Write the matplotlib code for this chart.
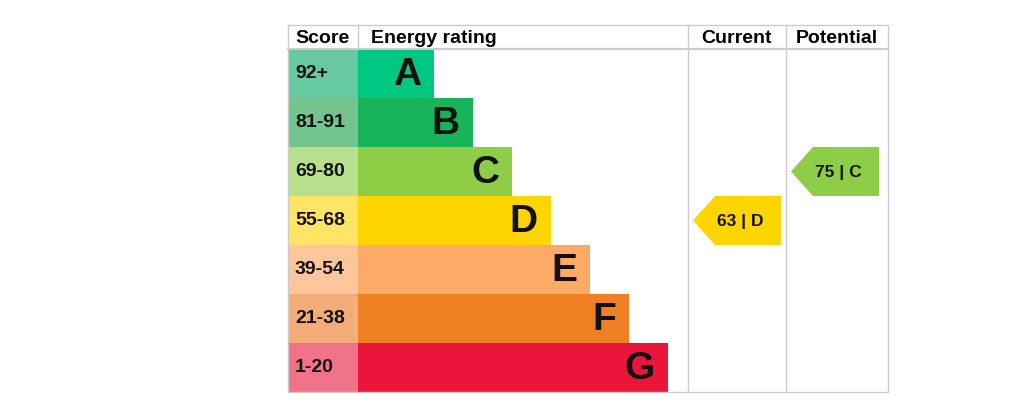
import matplotlib.pyplot as plt
from matplotlib.patches import Polygon

# --- datos de la tabla EPC ---
letras = ['A', 'B', 'C', 'D', 'E', 'F', 'G']
rangos = ['92+', '81-91', '69-80', '55-68', '39-54', '21-38', '1-20']
minimos = [92, 81, 69, 55, 39, 21, 1]
colores = ['#00c781', '#19b459', '#8dce46', '#ffd500', '#fcaa65', '#ef8023', '#e9153b']
colores_claros = ['#66c9a1', '#74c58d', '#b7e08c', '#ffe566', '#fdc79b', '#f4ad79', '#f07389']
actual = 63
potencial = 75

plt.rcParams['font.family'] = ['Liberation Sans', 'DejaVu Sans']

fig = plt.figure(figsize=(10.24, 4.13), dpi=100)
ax = fig.add_axes([0, 0, 1, 1])
ax.set_xlim(0, 1024)
ax.set_ylim(413, 0)
ax.axis('off')

# geometria (pixeles)
x0, x_score, x_cur, x_pot, x1 = 288, 358, 688, 786, 888
y_top, y_head, alto = 25, 49, 49
gris = '#cccccc'


def banda(puntos):
    for i, m in enumerate(minimos):
        if puntos >= m:
            return i
    return len(minimos) - 1


# barras de la escala
filas = [y_head + alto * (i + 0.5) for i in range(len(letras))]
largos = [76 + 39 * i for i in range(len(letras))]
ax.barh(filas, [x_score - x0] * len(letras), height=alto, left=x0,
        color=colores_claros, zorder=1)
ax.barh(filas, largos, height=alto, left=x_score, color=colores, zorder=1)

for i, (y, l) in enumerate(zip(filas, largos)):
    ax.text(x0 + 7, y, rangos[i], ha='left', va='center', fontsize=14,
            fontweight='bold', color='#111111', zorder=3)
    ax.text(x_score + l - 13, y + 1.5, letras[i], ha='right', va='center',
            fontsize=28, fontweight='bold', color='#111111', zorder=3)

# lineas de la tabla
y_bot = y_head + alto * len(letras)
ax.plot([x0, x1, x1, x0, x0], [y_top, y_top, y_bot, y_bot, y_top], color=gris, lw=1, zorder=2)
ax.plot([x0, x1], [y_head, y_head], color=gris, lw=1.5, zorder=2)
ax.plot([x_score, x_score], [y_top, y_head], color=gris, lw=1, zorder=2)
for xv in (x_cur, x_pot):
    ax.plot([xv, xv], [y_top, y_bot], color=gris, lw=1, zorder=2)

# encabezados
yh = (y_top + y_head) / 2 + 1.5
ax.text((x0 + x_score) / 2, yh, 'Score', ha='center', va='center', fontsize=14, fontweight='bold')
ax.text(x_score + 13, yh, 'Energy rating', ha='left', va='center', fontsize=14, fontweight='bold')
ax.text((x_cur + x_pot) / 2, yh, 'Current', ha='center', va='center', fontsize=14, fontweight='bold')
ax.text((x_pot + x1) / 2, yh, 'Potential', ha='center', va='center', fontsize=14, fontweight='bold')


# flechas actual / potencial
def flecha(xc, puntos):
    i = banda(puntos)
    yt = y_head + alto * i
    yb = yt + alto
    ym = (yt + yb) / 2
    izq, der = xc + 5, xc + 93
    pts = [(izq, ym), (izq + 22, yt), (der, yt), (der, yb), (izq + 22, yb)]
    ax.add_patch(Polygon(pts, closed=True, facecolor=colores[i], edgecolor='none', zorder=3))
    ax.text(izq + 47, ym + 1, f'{puntos} | {letras[i]}', ha='center', va='center',
            fontsize=12.5, fontweight='bold', color='#111111', zorder=4)


flecha(x_cur, actual)
flecha(x_pot, potencial)

fig.savefig('out.png', dpi=100)
